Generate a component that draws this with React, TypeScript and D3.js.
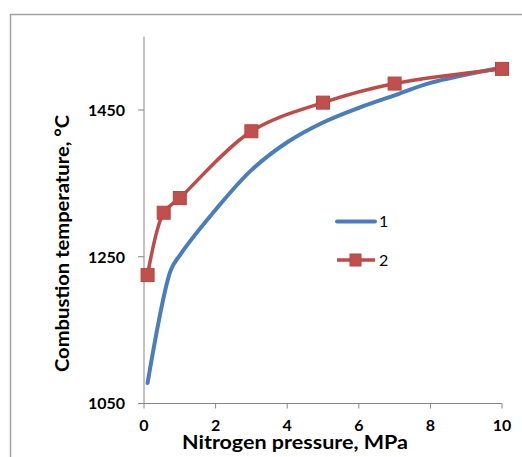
import React from "react";
import * as d3 from "d3";

const xTicks = [0, 2, 4, 6, 8, 10];
const yTicks = [1050, 1250, 1450];

const series1X = [0.1, 0.75, 1, 2, 3, 4, 5, 6, 7, 8, 10];
const series1Y = [1078, 1232, 1252, 1314, 1368, 1406, 1433, 1453, 1470, 1487, 1508];

const series2X = [0.1, 0.55, 1, 3, 5, 7, 10];
const series2Y = [1225, 1310, 1330, 1421, 1460, 1486, 1506];

const legendLabels = ["1", "2"];

const W = 522;
const H = 457;
const FONT = "Lato, 'Open Sans', sans-serif";
const BLUE = "#4A7EBB";
const RED = "#BE4B48";

export default function App() {
  const x = d3.scaleLinear().domain([0, 10]).range([144, 502]);
  const y = d3.scaleLinear().domain([1050, 1550]).range([403.5, 36.6]);

  const line = d3
    .line<[number, number]>()
    .x((d) => x(d[0]))
    .y((d) => y(d[1]))
    .curve(d3.curveCatmullRom.alpha(0.5));

  const s1 = series1X.map((v, i) => [v, series1Y[i]] as [number, number]);
  const s2 = series2X.map((v, i) => [v, series2Y[i]] as [number, number]);

  const axisColor = "#868686";
  const ms = 13;

  return (
    <svg
      width={W}
      height={H}
      style={{ position: "absolute", left: 0, top: 0, background: "#fff" }}
    >
      <rect x={10.5} y={14.5} width={540} height={470} fill="#fff" stroke="#A0A0A0" strokeWidth={1.5} />

      {/* axes */}
      <line x1={x(0)} x2={x(0)} y1={y(1550)} y2={y(1050)} stroke={axisColor} strokeWidth={1} />
      <line x1={x(0)} x2={x(10)} y1={y(1050)} y2={y(1050)} stroke={axisColor} strokeWidth={1} />
      {yTicks.map((t) => (
        <g key={"yt" + t}>
          <line x1={x(0) - 6} x2={x(0)} y1={y(t)} y2={y(t)} stroke={axisColor} strokeWidth={1} />
          <text
            x={125}
            y={y(t)}
            dy="0.36em"
            textAnchor="end"
            fontFamily={FONT}
            fontWeight="bold"
            fontSize={16}
            fill="#000"
          >
            {t}
          </text>
        </g>
      ))}
      {xTicks.map((t) => (
        <g key={"xt" + t}>
          <line x1={x(t)} x2={x(t)} y1={y(1050)} y2={y(1050) + 5} stroke={axisColor} strokeWidth={1} />
          <text
            x={x(t)}
            y={430.5}
            textAnchor="middle"
            fontFamily={FONT}
            fontWeight="bold"
            fontSize={16}
            fill="#000"
          >
            {t}
          </text>
        </g>
      ))}

      {/* axis titles */}
      <text
        x={295}
        y={449}
        textAnchor="middle"
        fontFamily={FONT}
        fontWeight="bold"
        fontSize={19}
        textLength={226}
        lengthAdjust="spacingAndGlyphs"
        fill="#000"
      >
        Nitrogen pressure, MPa
      </text>
      <text
        transform={`translate(68.5,243.5) rotate(-90)`}
        textAnchor="middle"
        fontFamily={FONT}
        fontWeight="bold"
        fontSize={18.5}
        textLength={257}
        lengthAdjust="spacingAndGlyphs"
        fill="#000"
      >
        Combustion temperature, °C
      </text>

      {/* series */}
      <path d={line(s1) || ""} fill="none" stroke={BLUE} strokeWidth={4} strokeLinecap="round" />
      <path d={line(s2) || ""} fill="none" stroke={RED} strokeWidth={3.5} />
      {s2.map((d, i) => (
        <rect
          key={"m" + i}
          x={x(d[0]) - ms / 2}
          y={y(d[1]) - ms / 2}
          width={ms}
          height={ms}
          fill="#C0504D"
          stroke="#B5463F"
          strokeWidth={1}
        />
      ))}

      {/* legend */}
      <line x1={337} x2={375} y1={221.5} y2={221.5} stroke={BLUE} strokeWidth={4} strokeLinecap="round" />
      <text x={379} y={221.5} dy="0.36em" fontFamily={FONT} fontSize={16} fill="#000">
        {legendLabels[0]}
      </text>
      <line x1={337} x2={375} y1={260} y2={260} stroke={RED} strokeWidth={3.5} />
      <rect x={350} y={254} width={11} height={12} fill="#C0504D" stroke="#B5463F" strokeWidth={1} />
      <text x={379} y={260} dy="0.36em" fontFamily={FONT} fontSize={16} fill="#000">
        {legendLabels[1]}
      </text>
    </svg>
  );
}
